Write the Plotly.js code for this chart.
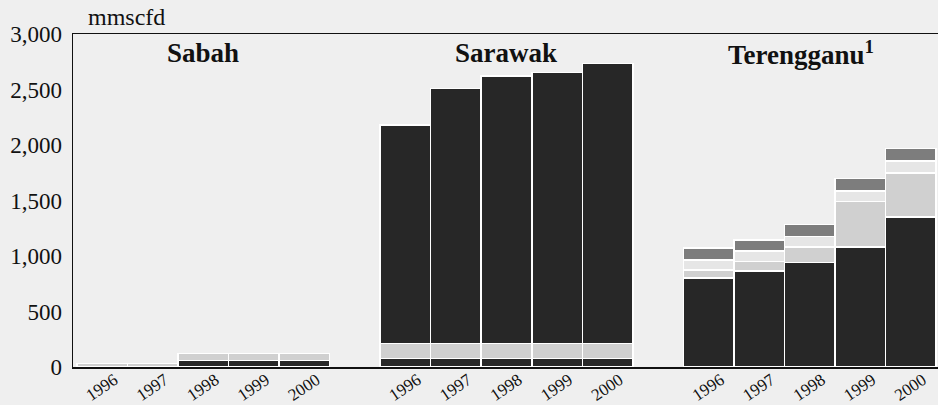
<!DOCTYPE html>
<html>
<head>
<meta charset="utf-8">
<script src="https://cdn.plot.ly/plotly-3.0.1.min.js"></script>
<style>html,body{margin:0;padding:0;background:#efefef;}#chart{width:938px;height:405px;}</style>
</head>
<body>
<div id="chart"></div>
<script>
// ---- data (mmscfd) ----
const years = ["1996", "1997", "1998", "1999", "2000"];
const regions = ["Sabah", "Sarawak", "Terengganu<sup>1</sup>"];

const sabahDark  = [0, 0, 60, 60, 60];
const sabahLight = [30, 30, 60, 60, 60];

const sarawakBase = [75, 75, 75, 75, 75];
const sarawakMid  = [135, 135, 135, 135, 135];
const sarawakTop  = [1970, 2300, 2410, 2445, 2525];

const terDark  = [800, 864, 940, 1080, 1350];
const terLight = [75, 85, 140, 410, 400];
const terPale  = [90, 95, 95, 95, 105];
const terMid   = [105, 100, 110, 115, 115];

// ---- layout helpers: each region occupies 5 slots, with one empty slot between regions ----
const slot = (g, i) => g * 6 + i;
const xs = g => years.map((_, i) => slot(g, i));

const C_DARK = "#272727", C_LIGHT = "#d0d0d0", C_PALE = "#e6e6e6", C_MID = "#7d7d7d";
const line = {color: "#ffffff", width: 1.5};

function tr(x, y, color) {
  return {type: "bar", x: x, y: y, width: 1, marker: {color: color, line: line},
          hoverinfo: "y", showlegend: false};
}

const traces = [
  tr(xs(0).concat(xs(1), xs(2)), sabahDark.concat(sarawakBase, terDark), C_DARK),
  tr(xs(0).concat(xs(1), xs(2)), sabahLight.concat(sarawakMid, terLight), C_LIGHT),
  tr(xs(1), sarawakTop, C_DARK),
  tr(xs(2), terPale, C_PALE),
  tr(xs(2), terMid, C_MID)
];

const tickvals = [], ticktext = [];
regions.forEach((r, g) => years.forEach((yr, i) => { tickvals.push(slot(g, i) + 0.24); ticktext.push(yr); }));

const serif = "Liberation Serif, Times New Roman, serif";
const titleShift = [0, 0, -9];
const annotations = regions.map((r, g) => ({
  text: "<b>" + r + "</b>", x: slot(g, 2), y: 0.943, xref: "x", yref: "paper",
  xanchor: "center", yanchor: "middle", showarrow: false, xshift: titleShift[g],
  font: {family: serif, size: 27, color: "#111"}
}));
annotations.push({
  text: "mmscfd", x: 0.015, y: 1.05, xref: "paper", yref: "paper",
  xanchor: "left", yanchor: "middle", showarrow: false,
  font: {family: serif, size: 24, color: "#111"}
});

const layout = {
  width: 938, height: 405,
  margin: {l: 73, r: 0, t: 34, b: 38, pad: 0},
  paper_bgcolor: "#efefef", plot_bgcolor: "#efefef",
  barmode: "stack", bargap: 0,
  xaxis: {range: [-0.579, 16.54], tickvals: tickvals, ticktext: ticktext, tickangle: -34,
          showline: true, mirror: true, linecolor: "#111", linewidth: 1.5,
          showgrid: false, zeroline: false, ticks: "", ticklabelstandoff: -5,
          tickfont: {family: serif, size: 17, color: "#111"}},
  yaxis: {range: [0, 3000], tickvals: [0, 500, 1000, 1500, 2000, 2500, 3000],
          tickformat: ",", showline: true, linecolor: "#111", linewidth: 1.5,
          showgrid: false, zeroline: false, ticks: "", ticklabelstandoff: 5,
          tickfont: {family: serif, size: 23, color: "#111"}},
  annotations: annotations,
  font: {family: serif}
};

Plotly.newPlot("chart", traces, layout, {displayModeBar: false, staticPlot: true});
</script>
</body>
</html>
